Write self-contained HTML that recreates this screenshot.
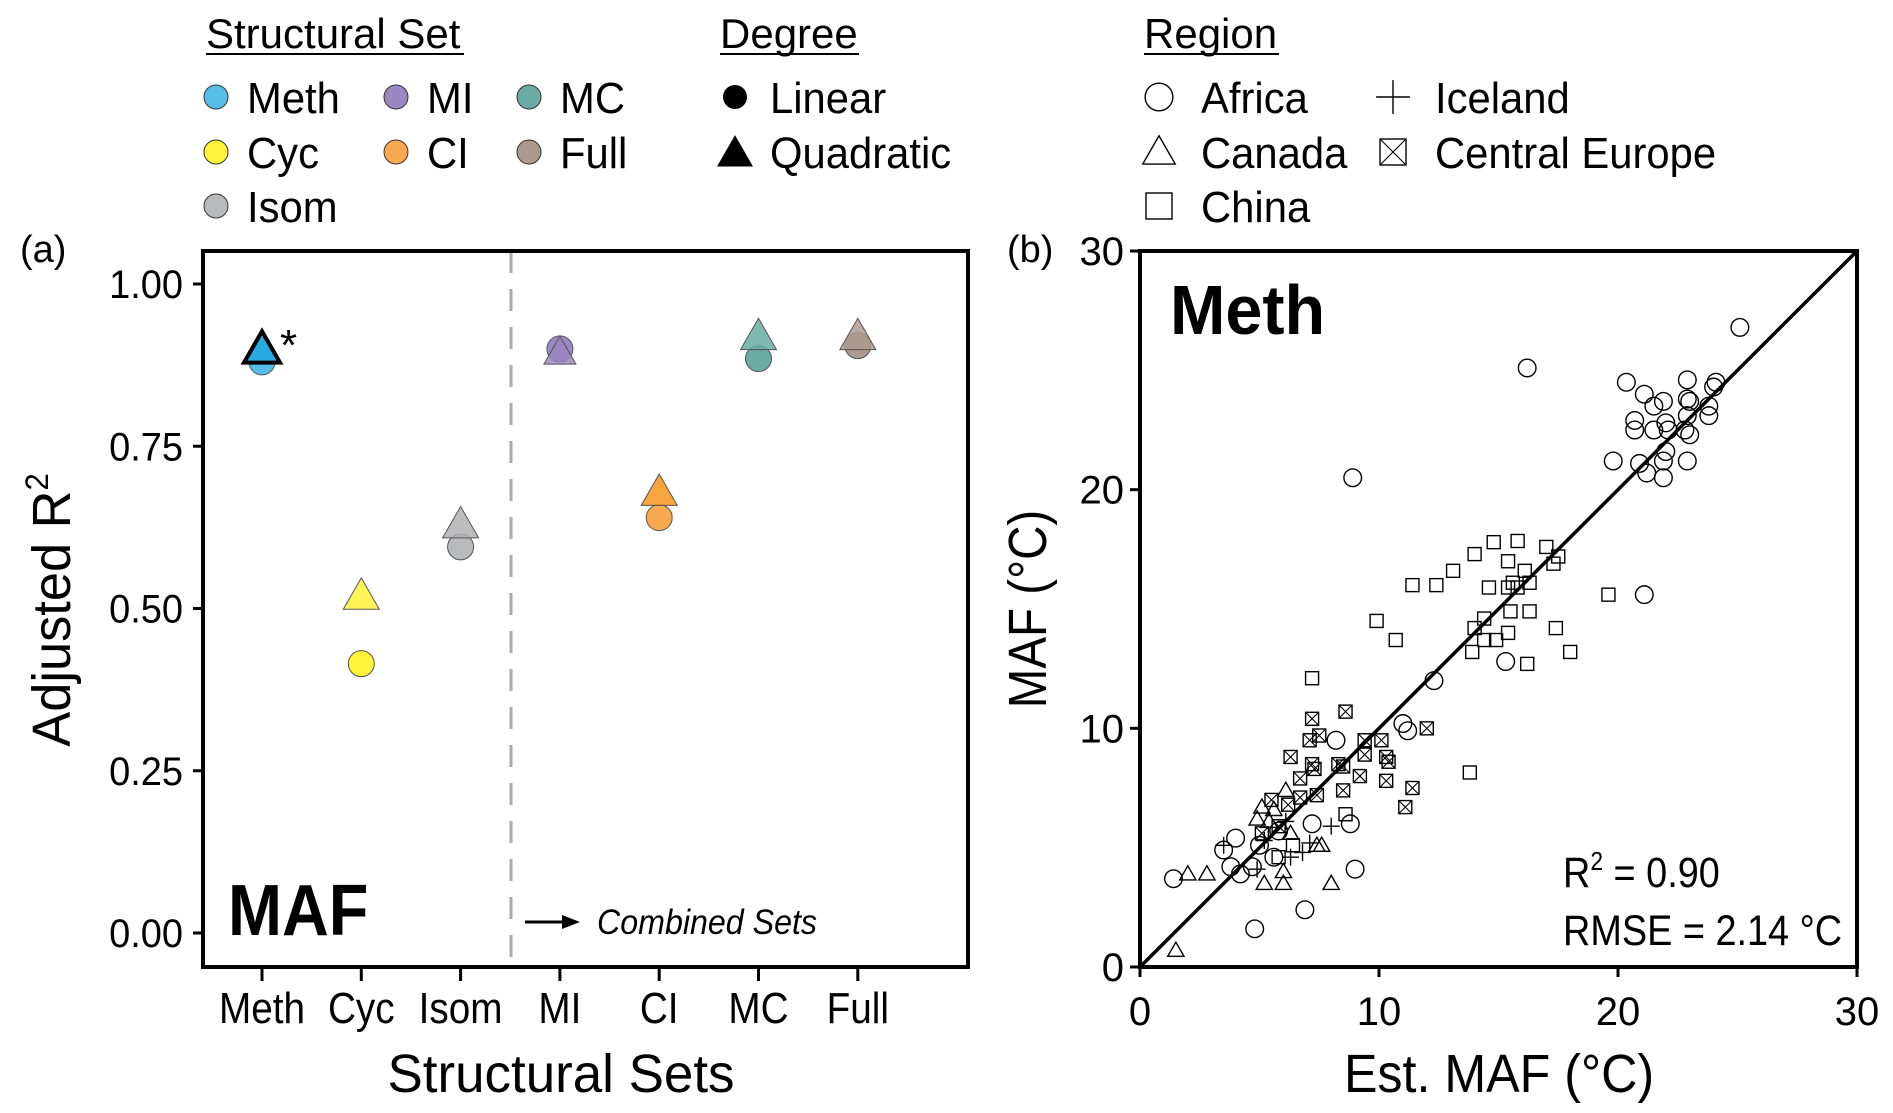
<!DOCTYPE html>
<html><head><meta charset="utf-8"><style>
html,body{margin:0;padding:0;background:#fff}
svg{display:block;font-family:"Liberation Sans",sans-serif}
</style></head><body>
<svg id="s" width="1893" height="1113" viewBox="0 0 1893 1113">
<g id="legend"></g>
<g id="pa"></g>
<g id="pb"></g>
</svg>
<script>
// Panel A data
const setNames=["Meth","Cyc","Isom","MI","CI","MC","Full"];
const linearR2=[0.88,0.415,0.595,0.90,0.64,0.885,0.905];
const quadR2=[0.895,0.515,0.625,0.90,0.675,0.915,0.915];
const yTicksA=[0,0.25,0.5,0.75,1.0];
const yTickLabelsA=["0.00","0.25","0.50","0.75","1.00"];
// Panel B data
const africa=[[25.1,26.8],[16.2,25.1],[8.9,20.5],[20.35,24.5],[22.9,24.6],[24.1,24.5],[24.0,24.3],[21.1,24.0],[21.9,23.7],[21.5,23.5],[22.9,23.8],[23.0,23.7],[23.8,23.5],[20.7,22.9],[20.7,22.5],[22.0,22.8],[21.5,22.5],[22.1,22.5],[22.8,22.5],[22.9,23.1],[23.0,22.3],[23.8,23.1],[19.8,21.2],[20.9,21.1],[21.2,20.7],[21.9,21.2],[22.0,21.6],[21.9,20.5],[22.9,21.2],[21.1,15.6],[15.3,12.8],[12.3,12.0],[11.0,10.2],[11.2,9.9],[8.2,9.5],[7.2,6.0],[8.8,6.0],[1.4,3.7],[3.5,4.9],[4.0,5.4],[3.8,4.2],[4.2,3.9],[4.7,4.2],[4.8,1.6],[6.9,2.4],[9.0,4.1],[5.6,4.6],[5.0,5.1],[5.8,5.7]];
const canada=[[1.5,0.7],[2.0,3.9],[2.8,3.9],[5.2,3.5],[6.0,3.5],[6.0,4.0],[8.0,3.5],[7.4,5.1],[7.6,5.1],[4.9,6.2],[5.1,6.7],[6.1,7.4],[5.6,6.6],[5.4,6.1],[6.3,5.6]];
const china=[[11.4,16.0],[12.4,16.0],[13.1,16.6],[14.0,17.3],[14.8,17.8],[15.8,17.85],[15.4,17.0],[17.0,17.6],[17.5,17.2],[17.3,16.9],[16.1,16.6],[16.3,16.1],[14.6,15.9],[15.4,15.9],[15.6,16.1],[15.8,15.9],[15.5,14.9],[16.3,14.9],[19.6,15.6],[9.9,14.5],[10.7,13.7],[14.0,14.2],[14.4,14.6],[14.4,13.7],[14.9,13.7],[15.4,14.0],[13.9,13.2],[17.4,14.2],[18.0,13.2],[16.2,12.7],[7.2,12.1],[13.8,8.15],[8.6,6.4],[6.4,5.1],[5.8,4.6]];
const centralEurope=[[8.6,10.7],[7.2,10.4],[7.1,9.5],[7.5,9.7],[6.3,8.8],[7.2,8.5],[7.3,8.3],[8.3,8.5],[8.5,8.4],[9.4,9.5],[10.1,9.5],[9.4,8.9],[10.3,8.8],[10.4,8.6],[12.0,10.0],[6.7,7.9],[7.4,7.2],[8.5,7.4],[9.2,8.0],[10.3,7.8],[11.4,7.5],[11.1,6.7],[5.5,7.0],[6.2,6.8],[6.7,7.1],[5.1,5.6],[5.8,5.9]];
const iceland=[[8.0,5.9],[3.5,5.1],[4.9,4.1],[6.3,4.6],[6.8,4.8],[5.2,5.3],[6.1,6.1],[7.1,5.2]];
const ticksB=[0,10,20,30];

const NS="http://www.w3.org/2000/svg";
function mk(parent,tag,attrs,text){const e=document.createElementNS(NS,tag);for(const k in attrs)e.setAttribute(k,attrs[k]);if(text!==undefined)e.textContent=text;parent.appendChild(e);return e;}
const colors={Meth:"#56bde8",Cyc:"#fff33a",Isom:"#b9babd",MI:"#9b87c1",CI:"#f9a94e",MC:"#6aaba5",Full:"#ad9a8f"};
const triColors={Meth:"#29a9e1",Cyc:"#fff33a",Isom:"#b1b2b5",MI:"#9b87c1",CI:"#f7941d",MC:"#6aaba5",Full:"#ad9a8f"};
function tri(cx,cy,s){const h=s*0.87;return `${cx-s/2},${cy+h/3} ${cx+s/2},${cy+h/3} ${cx},${cy-2*h/3}`;}
function txt(g,x,y,str,size,opts){opts=opts||{};const sx=opts.sx||1;const t=mk(g,"text",{x:0,y:0,"font-size":size,"text-anchor":opts.anchor||"start","font-weight":opts.bold?"bold":"normal","font-style":opts.italic?"italic":"normal",transform:`translate(${x},${y}) ${opts.rot?`rotate(${opts.rot})`:""} scale(${sx},1)`},str);return t;}

// Legend
const L=document.getElementById('legend');
let t;
t=txt(L,206,48,"Structural Set",42);
mk(L,"line",{x1:206,y1:54,x2:464,y2:54,stroke:"#000","stroke-width":2});
t=txt(L,720,48,"Degree",42);
mk(L,"line",{x1:720,y1:54,x2:859,y2:54,stroke:"#000","stroke-width":2});
t=txt(L,1144,48,"Region",42);
mk(L,"line",{x1:1144,y1:54,x2:1279,y2:54,stroke:"#000","stroke-width":2});
const legSets=[["Meth",216,97],["MI",396,97],["MC",529,97],["Cyc",216,152],["CI",396,152],["Full",529,152],["Isom",216,206]];
legSets.forEach(([n,x,y])=>{
  const g=mk(L,"g",{});
  
  
  mk(g,"circle",{cx:x,cy:y,r:12,fill:colors[n],stroke:"#333","stroke-width":1});
  txt(g,x+31,y+16,n,44,{sx:0.95});
});
let g=mk(L,"g",{});
mk(g,"circle",{cx:735,cy:97,r:12,fill:"#000"});txt(g,770,113,"Linear",44,{sx:0.95});
g=mk(L,"g",{});
mk(g,"polygon",{points:tri(735,156,36),fill:"#000"});txt(g,770,168,"Quadratic",44,{sx:0.95});
function regionMarker(p,type,x,y,s){
  if(type==="circle")mk(p,"circle",{cx:x,cy:y,r:s*0.55,fill:"none",stroke:"#000","stroke-width":1.4});
  else if(type==="tri")mk(p,"polygon",{points:tri(x,y+s*0.1,s*1.25),fill:"none",stroke:"#000","stroke-width":1.4});
  else if(type==="sq")mk(p,"rect",{x:x-s/2,y:y-s/2,width:s,height:s,fill:"none",stroke:"#000","stroke-width":1.4});
  else if(type==="plus"){mk(p,"path",{d:`M${x-s*0.65},${y}H${x+s*0.65}M${x},${y-s*0.65}V${y+s*0.65}`,stroke:"#000","stroke-width":1.4,fill:"none"});}
  else if(type==="sqx"){mk(p,"rect",{x:x-s/2,y:y-s/2,width:s,height:s,fill:"none",stroke:"#000","stroke-width":1.4});mk(p,"path",{d:`M${x-s/2},${y-s/2}L${x+s/2},${y+s/2}M${x+s/2},${y-s/2}L${x-s/2},${y+s/2}`,stroke:"#000","stroke-width":1.1});}
}
const legReg=[["Africa","circle",1159,97],["Iceland","plus",1393,97],["Canada","tri",1159,152],["Central Europe","sqx",1393,152],["China","sq",1159,206]];
legReg.forEach(([n,ty,x,y])=>{
  const gg=mk(L,"g",{});
  
  
  regionMarker(gg,ty,x,y,ty==="circle"?42*0.6:26);
  txt(gg,x+42,y+16,n,44,{sx:0.95});
});

// Panel A
const A=document.getElementById('pa');
const ax={l:203,r:968,t:251,b:967};
const yA=v=>933-v*649;
const xA=i=>262+i*99.3;
t=txt(A,20,262,"(a)",38);
const dl=mk(A,"line",{x1:511,y1:ax.t,x2:511,y2:ax.b,stroke:"#aaa","stroke-width":3,"stroke-dasharray":"22,16"});

yTicksA.forEach((v,i)=>{
  mk(A,"line",{x1:ax.l-10,y1:yA(v),x2:ax.l,y2:yA(v),stroke:"#000","stroke-width":3});
  const tt=txt(A,ax.l-20,yA(v)+14,yTickLabelsA[i],40,{anchor:"end",sx:0.95});
  
});
setNames.forEach((n,i)=>{
  mk(A,"line",{x1:xA(i),y1:ax.b,x2:xA(i),y2:ax.b+14,stroke:"#000","stroke-width":3});
  const tt=txt(A,xA(i),1023,n,44,{anchor:"middle",sx:0.88});
  
});
setNames.forEach((n,i)=>{
  const c=mk(A,"circle",{cx:xA(i),cy:yA(linearR2[i]),r:13,fill:colors[n],stroke:"#555","stroke-width":1});
  
});
setNames.forEach((n,i)=>{
  const bold=n==="Meth";
  const s=n==="MI"?32:36;
  const p=mk(A,"polygon",{points:tri(xA(i),yA(quadR2[i])+(n==="MI"?6:0),s),fill:triColors[n],"fill-opacity":bold?1:0.85,stroke:bold?"#000":"#555","stroke-width":bold?4:1});
  
});
t=txt(A,xA(0)+18,yA(quadR2[0])+8,"*",44);
const fr=mk(A,"rect",{x:ax.l,y:ax.t,width:ax.r-ax.l,height:ax.b-ax.t,fill:"none",stroke:"#000","stroke-width":4});

t=txt(A,228,935,"MAF",72,{bold:true,sx:0.9});
const ar=mk(A,"g",{});
mk(ar,"line",{x1:525,y1:922,x2:568,y2:922,stroke:"#000","stroke-width":3});
mk(ar,"polygon",{points:"580,922 562,915 562,929",fill:"#000"});
t=txt(A,597,934,"Combined Sets",35,{italic:true,sx:0.92});
t=txt(A,561,1092,"Structural Sets",54,{anchor:"middle",sx:0.98});
const yt=mk(A,"text",{x:0,y:0,"font-size":54,"text-anchor":"middle",transform:"translate(70,610) rotate(-90) scale(0.97,1)"});

yt.textContent="Adjusted R";const sup=mk(yt,"tspan",{"font-size":32,dy:-22},"2");

// Panel B
const B=document.getElementById('pb');
const bx={l:1140,r:1857,t:251,b:967};
const xB=v=>bx.l+v*(bx.r-bx.l)/30;
const yB=v=>bx.b-v*(bx.b-bx.t)/30;
t=txt(B,1007,262,"(b)",38);
ticksB.forEach(v=>{
  mk(B,"line",{x1:bx.l-10,y1:yB(v),x2:bx.l,y2:yB(v),stroke:"#000","stroke-width":3});
  mk(B,"line",{x1:xB(v),y1:bx.b,x2:xB(v),y2:bx.b+10,stroke:"#000","stroke-width":3});
  let a=txt(B,bx.l-16,yB(v)+14,String(v),40,{anchor:"end"});
  
  a=txt(B,xB(v),1025,String(v),40,{anchor:"middle"});
  
});
const series=[[africa,"circle","africa"],[canada,"tri","canada"],[china,"sq","china"],[centralEurope,"sqx","central-europe"],[iceland,"plus","iceland"]];
series.forEach(([arr,ty,nm])=>{
  const gg=mk(B,"g",{});
  
  
  arr.forEach(([x,y])=>{
    const pg=mk(gg,"g",{});
    
    
    regionMarker(pg,ty,xB(x),yB(y),ty==="circle"?16:13);
  });
});
const one=mk(B,"line",{x1:xB(0),y1:yB(0),x2:xB(30),y2:yB(30),stroke:"#000","stroke-width":3.5});

const frb=mk(B,"rect",{x:bx.l,y:bx.t,width:bx.r-bx.l,height:bx.b-bx.t,fill:"none",stroke:"#000","stroke-width":4});

t=txt(B,1170,334,"Meth",70,{bold:true,sx:0.95});
const r2=mk(B,"text",{x:0,y:0,"font-size":43,transform:"translate(1563,887) scale(0.88,1)"});

r2.appendChild(document.createTextNode("R"));mk(r2,"tspan",{"font-size":26,dy:-17},"2");mk(r2,"tspan",{dy:17}," = 0.90");
t=txt(B,1563,945,"RMSE = 2.14 °C",43,{sx:0.88});
t=txt(B,1499,1092,"Est. MAF (°C)",54,{anchor:"middle",sx:0.93});
t=txt(B,1046,609,"MAF (°C)",54,{anchor:"middle",rot:-90,sx:0.88});
</script>
</body></html>
